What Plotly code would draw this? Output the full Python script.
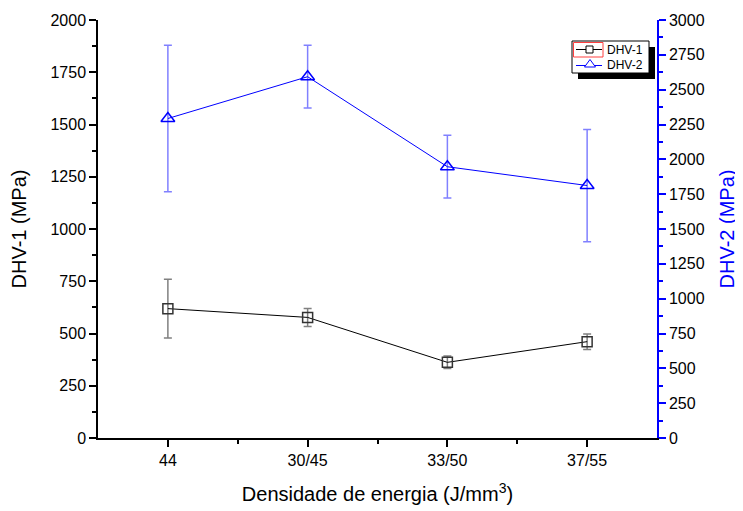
import plotly.graph_objects as go

categories = ["44", "30/45", "33/50", "37/55"]
x_pos = [1, 2, 3, 4]

dhv1 = [619, 577, 362, 461]
dhv1_err = [141, 43, 30, 37]

dhv2 = [2293, 2593, 1947, 1812]
dhv2_err = [525, 225, 225, 403]

left_ticks = [0, 250, 500, 750, 1000, 1250, 1500, 1750, 2000]
right_ticks = [0, 250, 500, 750, 1000, 1250, 1500, 1750, 2000, 2250, 2500, 2750, 3000]

series_names = ["DHV-1", "DHV-2"]

FONT = "Liberation Sans, Arial, sans-serif"
BLUE = "#0000ff"

fig = go.Figure()

fig.add_trace(go.Scatter(
    x=x_pos, y=dhv1, name=series_names[0], mode="lines+markers",
    line=dict(color="#000000", width=1),
    marker=dict(symbol="square-open", size=10, color="#333333", line=dict(width=1.5)),
    error_y=dict(type="data", array=dhv1_err, visible=True, color="#808080", thickness=1.5, width=4),
    yaxis="y", showlegend=False,
))

fig.add_trace(go.Scatter(
    x=x_pos, y=dhv2, name=series_names[1], mode="lines+markers",
    line=dict(color=BLUE, width=1),
    marker=dict(symbol="triangle-up-open", size=12, color=BLUE, line=dict(width=1.5)),
    error_y=dict(type="data", array=dhv2_err, visible=True, color="#8080ff", thickness=1.5, width=4),
    yaxis="y2", showlegend=False,
))

# ---- legend box (Origin-style, with drop shadow), built in paper coordinates ----
PL, PT, PW, PH = 98.0, 20.0, 559.0, 418.0   # plot area in page px


def px(xp):
    return (xp - PL) / PW


def py(yp):
    return (PT + PH - yp) / PH


def rect(x0, y0, x1, y1, **kw):
    fig.add_shape(type="rect", xref="paper", yref="paper",
                  x0=px(x0), x1=px(x1), y0=py(y1), y1=py(y0), layer="above", **kw)


def seg(x0, x1, y, color):
    fig.add_shape(type="line", xref="paper", yref="paper",
                  x0=px(x0), x1=px(x1), y0=py(y), y1=py(y), layer="above",
                  line=dict(color=color, width=1))


rect(578, 47, 655, 79, fillcolor="black", line=dict(width=0))
rect(572, 41, 649, 73, fillcolor="white", line=dict(color="black", width=1))
rect(573.5, 42.5, 603, 57, fillcolor="rgba(0,0,0,0)", line=dict(color="#ff4040", width=1))

# DHV-1 sample
seg(576, 602, 49.5, "black")
rect(586, 46, 593, 53, fillcolor="white", line=dict(color="black", width=1))
# DHV-2 sample
seg(576, 602, 65.5, BLUE)
tri = "M {} {} L {} {} L {} {} Z".format(px(584.5), py(67), px(590), py(59.5), px(595.5), py(67))
fig.add_shape(type="path", xref="paper", yref="paper", path=tri, layer="above",
              fillcolor="white", line=dict(color=BLUE, width=1))

for name, yy in zip(series_names, [49.5, 65.5]):
    fig.add_annotation(x=px(605), y=py(yy), xref="paper", yref="paper",
                       text=name, showarrow=False, xanchor="left", yanchor="middle",
                       font=dict(size=12, family=FONT, color="black"))

fig.update_layout(
    width=743, height=511,
    margin=dict(l=90, r=94, t=12, b=81),
    paper_bgcolor="white", plot_bgcolor="white",
    font=dict(family=FONT, size=16, color="black"),
    showlegend=False,
    xaxis=dict(
        range=[0.5, 4.5], tickmode="array", tickvals=x_pos, ticktext=categories,
        automargin=False,
        showline=True, linecolor="black", linewidth=1.5, mirror=False,
        ticks="outside", ticklen=7, tickcolor="black", tickwidth=1.5,
        showgrid=False, zeroline=False,
        minor=dict(tickmode="array", tickvals=[1.5, 2.5, 3.5], ticks="outside", ticklen=4, tickcolor="black", tickwidth=1.5),
        title=dict(text="Densidade de energia (J/mm<sup>3</sup>)", font=dict(size=20), standoff=19),
    ),
    yaxis=dict(
        range=[0, 2000], tickmode="array", tickvals=left_ticks,
        automargin=False,
        showline=True, linecolor="black", linewidth=1.5,
        ticks="outside", ticklen=7, tickcolor="black", tickwidth=1.5,
        showgrid=False, zeroline=False,
        minor=dict(dtick=125, tick0=0, ticks="outside", ticklen=4, tickcolor="black", tickwidth=1.5),
        title=dict(text="DHV-1 (MPa)", font=dict(size=20), standoff=18),
    ),
    yaxis2=dict(
        range=[0, 3000], tickmode="array", tickvals=right_ticks,
        overlaying="y", side="right", anchor="x",
        automargin=False,
        showline=True, linecolor=BLUE, linewidth=1.5,
        ticks="outside", ticklen=7, tickcolor=BLUE, tickwidth=1.5,
        tickfont=dict(color="black"),
        showgrid=False, zeroline=False,
        minor=dict(dtick=125, tick0=0, ticks="outside", ticklen=4, tickcolor=BLUE, tickwidth=1.5),
        title=dict(text="DHV-2 (MPa)", font=dict(size=20, color=BLUE), standoff=16),
    ),
)

fig.write_html("out.html")
